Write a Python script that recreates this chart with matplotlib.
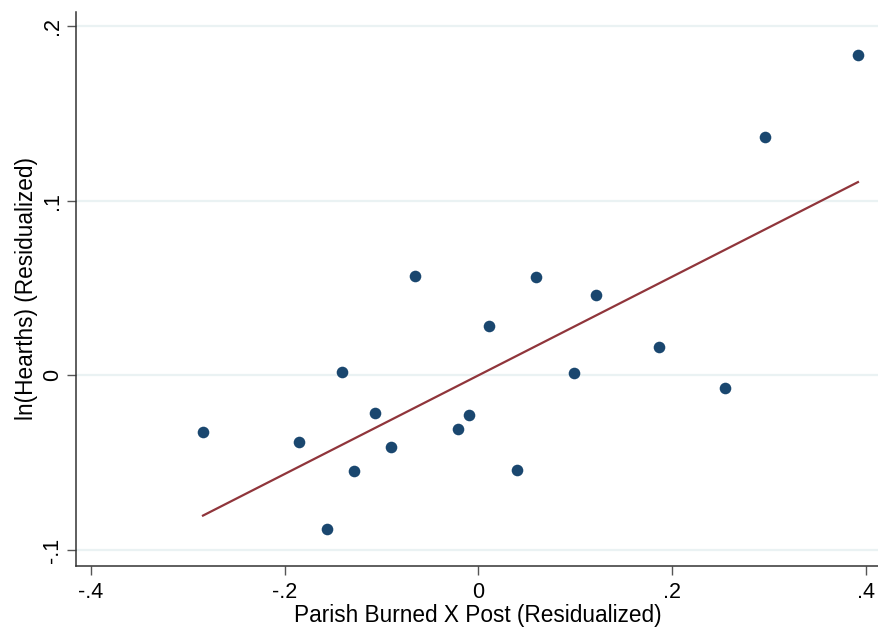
import numpy as np
import matplotlib
matplotlib.use("Agg")
import matplotlib.pyplot as plt

plt.rcParams['font.family'] = ['Liberation Sans', 'DejaVu Sans']

x_vals = [-0.2844, -0.1853, -0.1564, -0.1409, -0.1285, -0.1068, -0.0903, -0.0655,
          -0.0212, -0.0098, 0.0108, 0.0397, 0.0594, 0.0986, 0.1213, 0.1863,
          0.2545, 0.2958, 0.3917]
y_vals = [-0.0325, -0.0384, -0.0880, 0.0019, -0.0548, -0.0216, -0.0410, 0.0569,
          -0.0307, -0.0227, 0.0282, -0.0542, 0.0563, 0.0013, 0.0460, 0.0162,
          -0.0073, 0.1365, 0.1834]
# linear fit (slope, intercept)
fit_slope = 0.2824
fit_intercept = 0.0
x_ticks = [-0.4, -0.2, 0, 0.2, 0.4]
x_ticklabels = ['-.4', '-.2', '0', '.2', '.4']
y_ticks = [-0.1, 0, 0.1, 0.2]
y_ticklabels = ['-.1', '0', '.1', '.2']

fig = plt.figure(figsize=(8.79, 6.29), dpi=100)
W, H = 879, 629
left, right, top, bottom = 76, 879, 12, 566
ax = fig.add_axes([left / W, 1 - bottom / H, (right - left) / W, (bottom - top) / H])

xl = (76 - 478.5) / 968.75
xr = (879 - 478.5) / 968.75
yt = (375.3 - 12) / 1746.7
yb = (375.3 - 566) / 1746.7
ax.set_xlim(xl, xr)
ax.set_ylim(yb, yt)

for yv in y_ticks:
    ax.axhline(yv, color='#eaf2f3', lw=1.6, zorder=0)

x = np.array(x_vals)
y = np.array(y_vals)
ax.scatter(x, y, s=70, color='#1a476f', zorder=3, linewidths=0)
xs = np.array([x.min(), x.max()])
ax.plot(xs, fit_intercept + fit_slope * xs, color='#90353b', lw=1.6, zorder=2)

ax.set_xticks(x_ticks)
ax.set_xticklabels(x_ticklabels)
ax.set_yticks(y_ticks)
ax.set_yticklabels(y_ticklabels, rotation=90, va='center')
ax.tick_params(axis='both', direction='out', length=6.5, width=1, color='#555555',
               labelsize=15.5, labelcolor='black')
ax.tick_params(axis='x', pad=5)
ax.tick_params(axis='y', pad=3)

for s in ['top', 'right']:
    ax.spines[s].set_visible(False)
for s in ['left', 'bottom']:
    ax.spines[s].set_color('#333333')
    ax.spines[s].set_linewidth(1.1)

ax.set_xlabel('Parish Burned X Post (Residualized)', fontsize=16.3, labelpad=1)
ax.set_ylabel('ln(Hearths) (Residualized)', fontsize=16.3, labelpad=3)

fig.savefig('out.png', dpi=100, facecolor='white')
